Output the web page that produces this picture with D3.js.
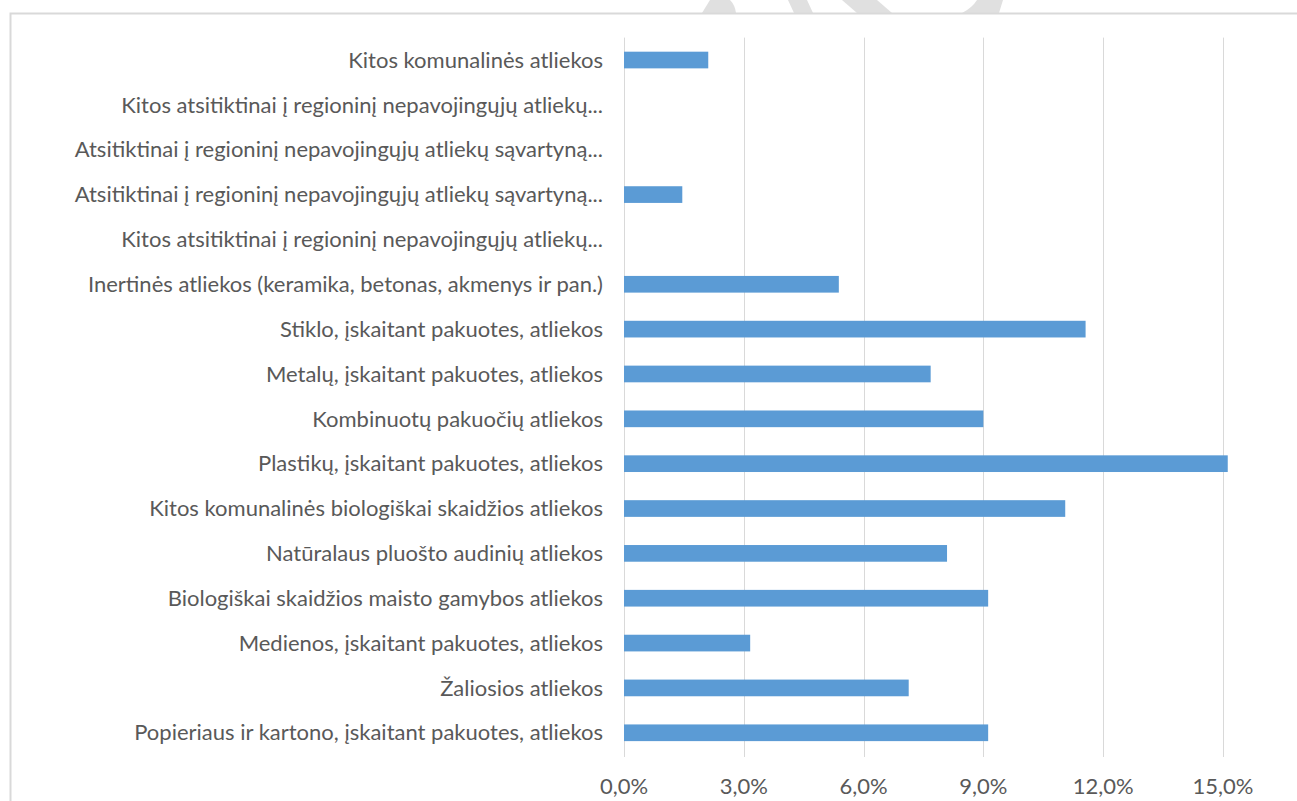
<!DOCTYPE html>
<html>
<head>
<meta charset="utf-8">
<script src="https://cdn.jsdelivr.net/npm/d3@7"></script>
<style>
  body { margin: 0; background: #fff; }
  svg { display: block; }
</style>
</head>
<body>
<div id="chart"></div>
<script>
// categories top to bottom, as in the chart
const categories = [
  "Kitos komunalinės atliekos",
  "Kitos atsitiktinai į regioninį nepavojingųjų atliekų...",
  "Atsitiktinai į regioninį nepavojingųjų atliekų sąvartyną...",
  "Atsitiktinai į regioninį nepavojingųjų atliekų sąvartyną...",
  "Kitos atsitiktinai į regioninį nepavojingųjų atliekų...",
  "Inertinės atliekos (keramika, betonas, akmenys ir pan.)",
  "Stiklo, įskaitant pakuotes, atliekos",
  "Metalų, įskaitant pakuotes, atliekos",
  "Kombinuotų pakuočių atliekos",
  "Plastikų, įskaitant pakuotes, atliekos",
  "Kitos komunalinės biologiškai skaidžios atliekos",
  "Natūralaus pluošto audinių atliekos",
  "Biologiškai skaidžios maisto gamybos atliekos",
  "Medienos, įskaitant pakuotes, atliekos",
  "Žaliosios atliekos",
  "Popieriaus ir kartono, įskaitant pakuotes, atliekos"
];
// share in percent
const values = [2.11, 0, 0, 1.46, 0, 5.38, 11.56, 7.68, 9.00, 15.12, 11.05, 8.09, 9.12, 3.16, 7.13, 9.12];
const xTicks = [0, 3, 6, 9, 12, 15];
const xMax = 18;   // axis runs on past the right edge of the picture

const width = 1297, height = 801;
const margin = {top: 37.6, left: 624, bottom: 45.8};

let svg = d3.select("#chart")
    .append("svg")
    .attr("width", width)
    .attr("height", height);

// faint watermark bits peeking above the frame
const marks = [
  "M710,0 L730,0 Q735,5 736,13 L702,13 Z",
  "M788,0 L807,0 L813,13 L794,13 Z",
  "M842,0 L877,0 L892,13 L857,13 Z",
  "M977,0 L1003,0 L999,13 L962,13 Q972,8 977,0 Z"
];
svg.selectAll("path.wm").data(marks).enter()
    .append("path")
    .attr("class", "wm")
    .attr("d", d => d)
    .attr("fill", "#e0e0e0");

// chart frame (runs off the right and bottom edges)
svg.append("rect")
    .attr("x", 10.5)
    .attr("y", 13.5)
    .attr("width", 1400)
    .attr("height", 900)
    .attr("fill", "none")
    .attr("stroke", "#d9d9d9")
    .attr("stroke-width", 2);

let x = d3.scaleLinear()
    .domain([0, xMax])
    .range([margin.left, margin.left + xMax * 39.93]);

let y = d3.scaleBand()
    .domain(d3.range(categories.length))
    .range([margin.top, height - margin.bottom])
    .paddingInner(0.628)
    .paddingOuter(0.314);

const locale = d3.formatLocale({decimal: ",", thousands: " ", grouping: [3], currency: ["", "€"]});
const fmt = v => locale.format(".1f")(v) + "%";

// vertical gridlines
svg.append("g")
    .selectAll("line")
    .data(xTicks)
    .enter()
    .append("line")
    .attr("x1", d => Math.round(x(d)) + 0.5)
    .attr("x2", d => Math.round(x(d)) + 0.5)
    .attr("y1", margin.top)
    .attr("y2", 757)
    .attr("stroke", "#d9d9d9")
    .attr("stroke-width", 1);

// bars
svg.append("g")
    .selectAll("rect")
    .data(values)
    .enter()
    .append("rect")
    .attr("x", x(0))
    .attr("y", (d, i) => y(i))
    .attr("width", d => x(d) - x(0))
    .attr("height", y.bandwidth())
    .attr("fill", "#5b9bd5");

// category labels
svg.append("g")
    .selectAll("text")
    .data(categories)
    .enter()
    .append("text")
    .attr("x", 603)
    .attr("y", (d, i) => y(i) + y.bandwidth() / 2)
    .attr("dy", "0.35em")
    .style("text-anchor", "end")
    .style("font-family", "Lato, 'Open Sans', sans-serif")
    .style("font-size", "22px")
    .style("fill", "#595959")
    .text(d => d);

// x tick labels
svg.append("g")
    .selectAll("text")
    .data(xTicks)
    .enter()
    .append("text")
    .attr("x", d => x(d))
    .attr("y", 794)
    .style("text-anchor", "middle")
    .style("font-family", "Lato, 'Open Sans', sans-serif")
    .style("font-size", "22px")
    .style("fill", "#595959")
    .text(d => fmt(d));
</script>
</body>
</html>
